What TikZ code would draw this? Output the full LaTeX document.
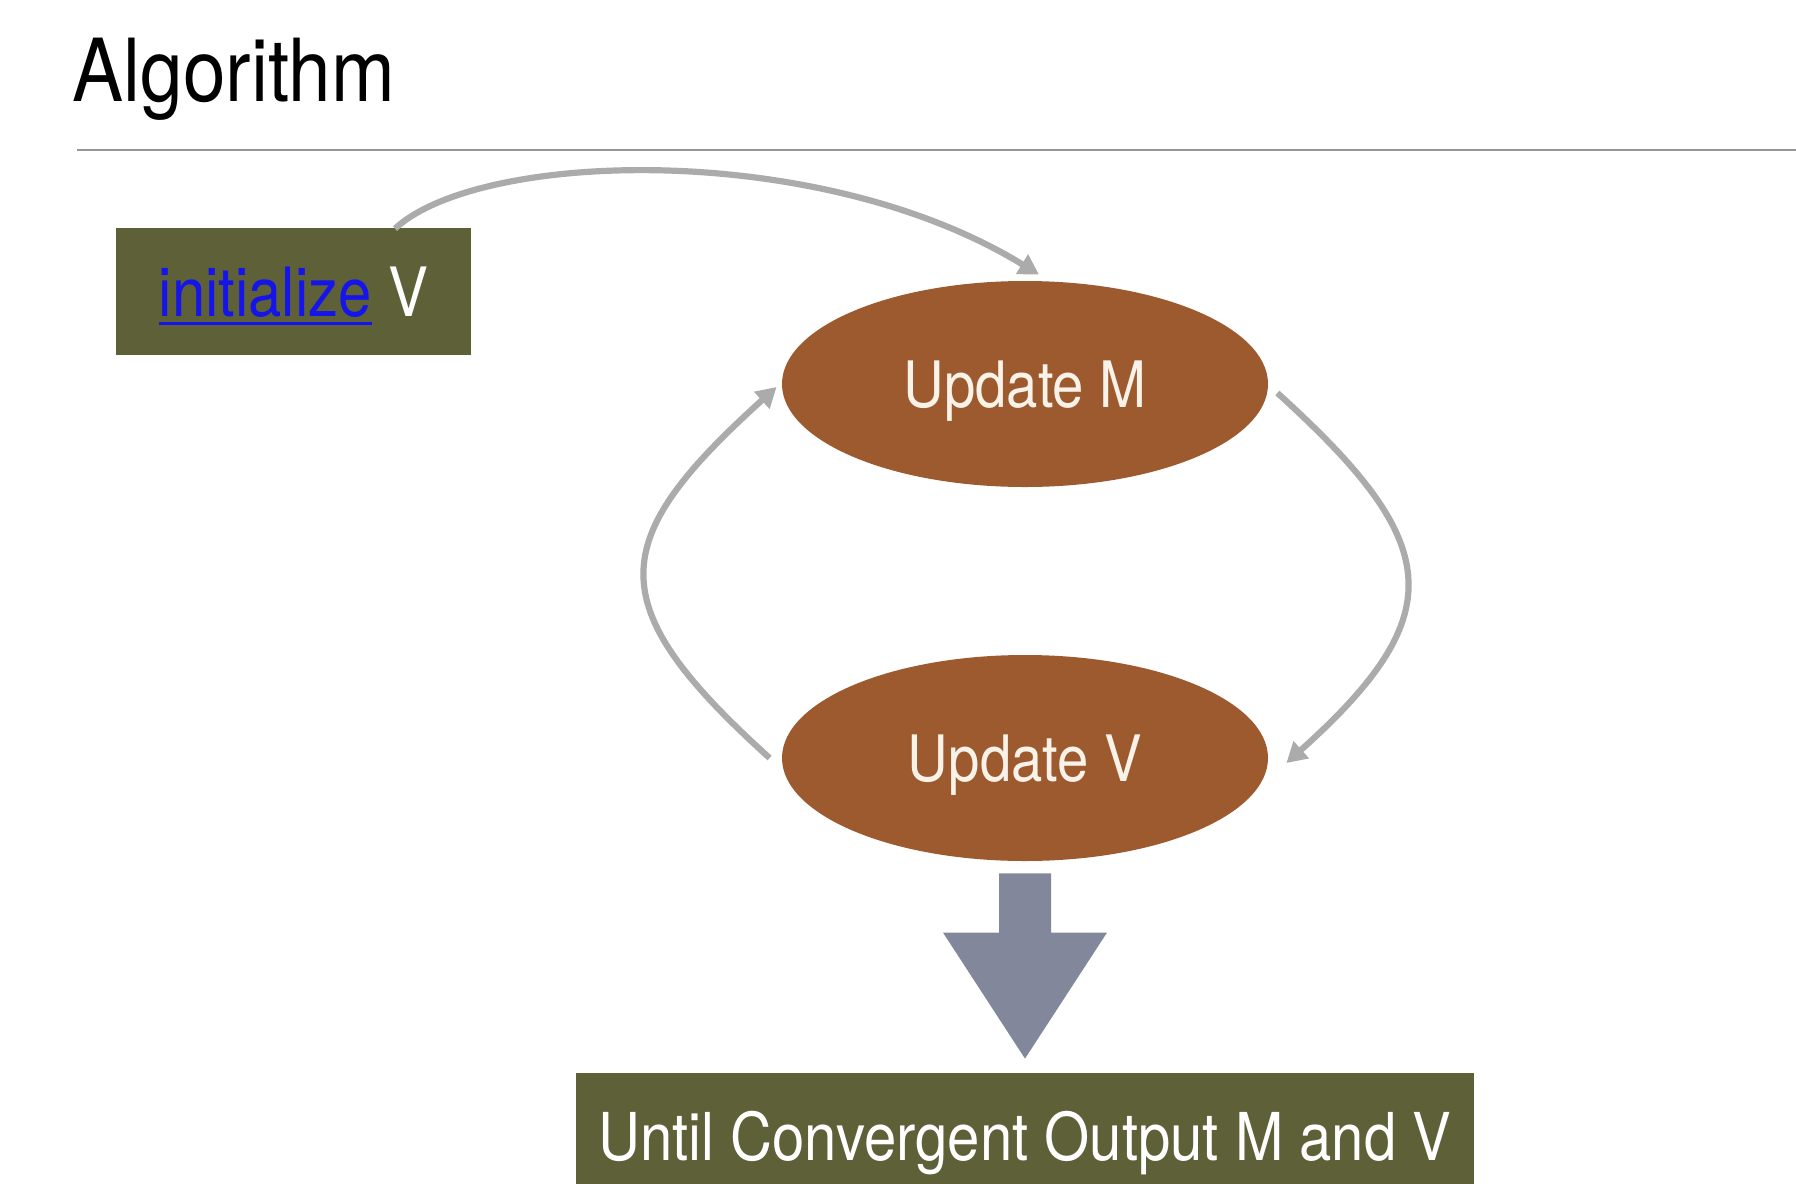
\documentclass[tikz,border=0pt]{standalone}
\usepackage{fontspec}
\setmainfont{TeX Gyre Heros}[FakeStretch=0.88]
\usepackage{xcolor}
\usepackage{tikz}
\usetikzlibrary{shapes.geometric,arrows.meta,calc}
\definecolor{olive}{RGB}{94, 96, 56}
\definecolor{rust}{RGB}{157, 90, 47}
\definecolor{slate}{RGB}{131, 135, 155}
\definecolor{arcgray}{RGB}{171, 171, 171}
\definecolor{rulegray}{RGB}{150, 150, 150}
\definecolor{linkblue}{RGB}{20, 20, 235}
\definecolor{cream}{RGB}{248, 242, 232}

\newcommand{\linkul}[1]{\vtop{\hbox{#1}\kern2.5pt\hrule height 1.3pt}}

\tikzset{
  stepbox/.style={rectangle, fill=olive, inner sep=0pt, text=white, text depth=0pt},
  update/.style={ellipse, fill=rust, inner sep=0pt, minimum width=243pt, minimum height=103pt,
    text=cream, text height=23pt, text depth=0pt, font=\fontsize{32}{36}\selectfont},
  loop arrow/.style={draw=arcgray, line width=3.1pt, -{Triangle[length=10pt,width=11pt]}},
  block arrow/.style={fill=slate}
}

\begin{document}
\begin{tikzpicture}[x=0.5pt,y=0.5pt,yscale=-1,xscale=1]
\useasboundingbox (0,0) rectangle (1796,1184);

% Title and rule
\node[anchor=base west, inner sep=0pt, font=\fontsize{43.5}{48}\selectfont] (title) at (72,101) {Algorithm};
\draw[rulegray, line width=1pt] (77,150) -- (1796,150);

% Boxes
\node[stepbox, minimum width=177.5pt, minimum height=63.5pt, text height=24.5pt, font=\fontsize{34}{38}\selectfont]
  (init) at (293.5,291.5) {\textcolor{linkblue}{\linkul{initialize}} V};
\node[stepbox, minimum width=449pt, minimum height=63.5pt, text height=24pt, font=\fontsize{33}{37}\selectfont]
  (out) at (1025,1136.5) {Until Convergent Output M and V};

% Ellipses
\node[update] (upM) at (1025,384) {Update M};
\node[update] (upV) at (1025,758) {Update V};

% Curve Lines
\draw[loop arrow] ($(init.north)+(101.5,1)$) .. controls (480,150) and (820,140) .. ($(upM.north)+(14,-6)$);
\draw[loop arrow] ($(upM.east)+(9,9)$) .. controls (1442,542) and (1454,613) .. ($(upV.east)+(18,5)$);
\draw[loop arrow] ($(upV.west)+(-12,0)$) .. controls (599,604) and (606,541) .. ($(upM.west)+(-5,3)$);

% Block arrow down to the output box
\fill[block arrow] ($(upV.south)+(-26,12)$) -- ($(upV.south)+(26,12)$) -- ($(out.north)+(26,-140)$)
  -- ($(out.north)+(82,-140)$) -- ($(out.north)+(0,-14)$) -- ($(out.north)+(-82,-140)$)
  -- ($(out.north)+(-26,-140)$) -- cycle;

\end{tikzpicture}
\end{document}
